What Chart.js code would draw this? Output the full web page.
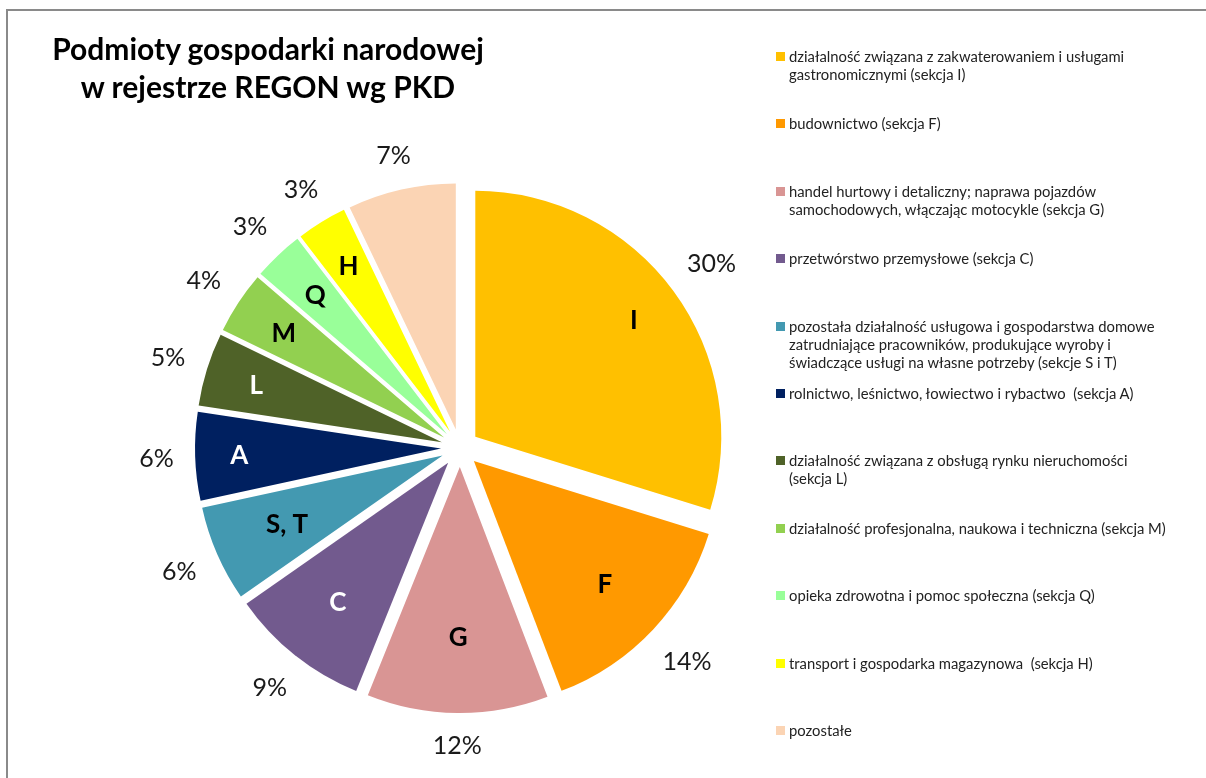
<!DOCTYPE html>
<html>
<head>
<meta charset="utf-8">
<script src="https://cdn.jsdelivr.net/npm/chart.js@4/dist/chart.umd.min.js"></script>
<style>
  html, body { margin:0; padding:0; background:#fff; width:1206px; height:778px; overflow:hidden; }
  #frame { position:absolute; left:6px; top:9px; width:1198px; height:780px; border-top:2px solid #8a8a8a; border-left:2px solid #8a8a8a; }
  #c { position:absolute; left:0; top:0; }
  #title { position:absolute; left:0; width:536px; top:29px; text-align:center; font-family:Lato, "Open Sans", sans-serif; font-weight:bold; font-size:30px; line-height:38px; color:#000; }
  .lg { position:absolute; left:776px; font-family:Lato, "Open Sans", sans-serif; font-size:14.8px; line-height:18px; color:#222; white-space:pre; }
  .lg .sw { position:absolute; left:0; top:5px; width:9px; height:9px; }
  .lg .tx { position:absolute; left:13px; top:0; width:425px; }
</style>
</head>
<body>
<div id="frame"></div>
<canvas id="c" width="1206" height="778"></canvas>
<div id="title">Podmioty gospodarki narodowej<br>w rejestrze REGON wg PKD</div>
<div id="legend"></div>
<script>
// ---- data ----
const sectionCodes = ['I', 'F', 'G', 'C', 'S, T', 'A', 'L', 'M', 'Q', 'H', ''];
const categories = [
  'działalność związana z zakwaterowaniem i usługami\ngastronomicznymi (sekcja I)',
  'budownictwo (sekcja F)',
  'handel hurtowy i detaliczny; naprawa pojazdów\nsamochodowych, włączając motocykle (sekcja G)',
  'przetwórstwo przemysłowe (sekcja C)',
  'pozostała działalność usługowa i gospodarstwa domowe\nzatrudniające pracowników, produkujące wyroby i\nświadczące usługi na własne potrzeby (sekcje S i T)',
  'rolnictwo, leśnictwo, łowiectwo i rybactwo  (sekcja A)',
  'działalność związana z obsługą rynku nieruchomości\n(sekcja L)',
  'działalność profesjonalna, naukowa i techniczna (sekcja M)',
  'opieka zdrowotna i pomoc społeczna (sekcja Q)',
  'transport i gospodarka magazynowa  (sekcja H)',
  'pozostałe'
];
const shares = [29.8, 14.4, 11.9, 9.2, 6.3, 5.8, 4.8, 4.1, 3.3, 3.3, 7.1];

// ---- styles ----
const colors = ['#FFC000', '#FF9900', '#D99594', '#725A8E', '#4399B1', '#002060', '#4F6228', '#92D050', '#99FF99', '#FFFF00', '#FBD4B4'];
const codeColors = ['#000', '#000', '#000', '#fff', '#000', '#fff', '#fff', '#000', '#000', '#000', '#000'];
const codeRadius = [0.80, 0.73, 0.69, 0.72, 0.69, 0.82, 0.79, 0.78, 0.78, 0.79, 0.75];
const EXPLODE = 19;
const RADIUS = 246;
const LABEL_GAP = 21;
const FONT = 'Lato, "Open Sans", sans-serif';

// legend (HTML)
const lgEl = document.getElementById('legend');
categories.forEach((t, i) => {
  const d = document.createElement('div');
  d.className = 'lg';
  d.style.top = (47 + i * 67.4) + 'px';
  const sw = document.createElement('div'); sw.className = 'sw'; sw.style.background = colors[i];
  const tx = document.createElement('div'); tx.className = 'tx'; tx.textContent = t;
  d.appendChild(sw); d.appendChild(tx);
  lgEl.appendChild(d);
});

const explodePlugin = {
  id: 'explode',
  afterDatasetsUpdate(chart) {
    chart.getDatasetMeta(0).data.forEach(arc => {
      const mid = (arc.startAngle + arc.endAngle) / 2;
      arc.x += Math.cos(mid) * EXPLODE;
      arc.y += Math.sin(mid) * EXPLODE;
    });
  }
};

const labelPlugin = {
  id: 'sliceLabels',
  afterDatasetsDraw(chart) {
    const ctx = chart.ctx;
    const ds = chart.data.datasets[0].data;
    const total = ds.reduce((a, b) => a + b, 0);
    ctx.save();
    ctx.textAlign = 'center';
    ctx.textBaseline = 'middle';
    chart.getDatasetMeta(0).data.forEach((arc, i) => {
      const mid = (arc.startAngle + arc.endAngle) / 2;
      const R = arc.outerRadius;
      const cx = Math.cos(mid), cy = Math.sin(mid);
      if (sectionCodes[i]) {
        ctx.font = 'bold 26px ' + FONT;
        ctx.fillStyle = codeColors[i];
        ctx.fillText(sectionCodes[i], arc.x + cx * R * codeRadius[i], arc.y + cy * R * codeRadius[i] + 1);
      }
      ctx.font = '25px ' + FONT;
      ctx.fillStyle = '#1a1a1a';
      const txt = Math.round(ds[i] / total * 100) + '%';
      const w = ctx.measureText(txt).width;
      const ext = Math.abs(cx) * w / 2 + Math.abs(cy) * 11;
      const pr = R + LABEL_GAP + ext;
      ctx.fillText(txt, arc.x + cx * pr, arc.y + cy * pr + 1);
    });
    ctx.restore();
  }
};

new Chart(document.getElementById('c'), {
  type: 'pie',
  data: {
    labels: categories,
    datasets: [{
      data: shares,
      backgroundColor: colors,
      borderWidth: 0,
      clip: false
    }]
  },
  options: {
    responsive: false,
    animation: false,
    radius: RADIUS,
    layout: { padding: { left: 210, right: 496, top: 200, bottom: 82 } },
    plugins: { legend: { display: false }, tooltip: { enabled: false }, title: { display: false } },
    events: []
  },
  plugins: [explodePlugin, labelPlugin]
});
</script>
</body>
</html>
